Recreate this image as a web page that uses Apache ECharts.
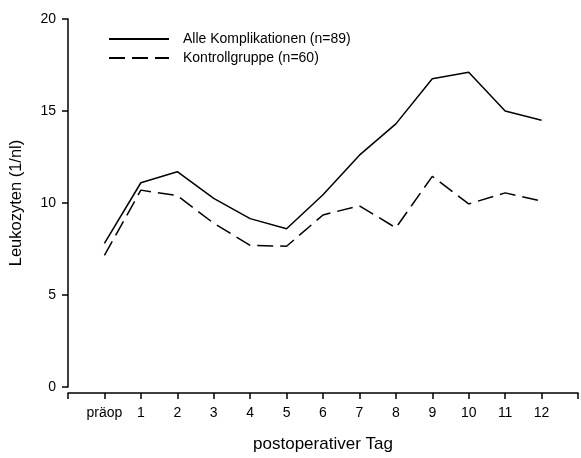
<!DOCTYPE html>
<html>
<head>
<meta charset="utf-8">
<script src="https://cdn.jsdelivr.net/npm/echarts@6/dist/echarts.min.js"></script>
<style>
  html, body { margin: 0; padding: 0; background: #fff; }
  #chart { width: 581px; height: 458px; }
</style>
</head>
<body>
<div id="chart"></div>
<script>
// Day labels along the x axis (index 0 = pre-op)
var categories = ['präop', '1', '2', '3', '4', '5', '6', '7', '8', '9', '10', '11', '12'];
// Mean leukocyte counts (1/nl)
var alleKomplikationen = [7.8, 11.1, 11.7, 10.25, 9.15, 8.6, 10.45, 12.6, 14.3, 16.75, 17.1, 15.0, 14.5];
var kontrollgruppe = [7.15, 10.7, 10.4, 8.9, 7.7, 7.65, 9.35, 9.85, 8.65, 11.45, 9.95, 10.55, 10.1];
var yTicks = [0, 5, 10, 15, 20];

var FONT = '"Liberation Sans", Arial, sans-serif';

function toPairs(values) {
  return values.map(function (v, i) { return [i, v]; });
}

var chart = echarts.init(document.getElementById('chart'), null, { renderer: 'canvas' });

chart.setOption({
  backgroundColor: '#ffffff',
  animation: false,
  textStyle: { fontFamily: FONT, color: '#000' },
  grid: { left: 67.7, top: 19, right: -2.1, bottom: 67.3, containLabel: false },
  legend: {
    orient: 'vertical',
    left: 108,
    top: 32,
    padding: 0,
    itemWidth: 60,
    itemHeight: 14,
    itemGap: 5,
    itemStyle: { opacity: 0 },
    textStyle: { fontFamily: FONT, fontSize: 14, color: '#000', padding: [0, 0, 0, 9] },
    data: ['Alle Komplikationen (n=89)', 'Kontrollgruppe (n=60)']
  },
  xAxis: {
    type: 'value',
    min: -1,
    max: 13,
    interval: 1,
    offset: 6,
    name: 'postoperativer Tag',
    nameLocation: 'middle',
    nameGap: 43,
    nameTextStyle: { fontFamily: FONT, fontSize: 17, color: '#000' },
    axisLine: { show: true, onZero: false, lineStyle: { color: '#000', width: 1.5 } },
    axisTick: { show: true, length: 6, lineStyle: { color: '#000', width: 1.5 } },
    axisLabel: {
      margin: 13,
      fontFamily: FONT,
      fontSize: 14,
      color: '#000',
      formatter: function (v) {
        var i = Math.round(v);
        return (i >= 0 && i < categories.length) ? categories[i] : '';
      }
    },
    splitLine: { show: false }
  },
  yAxis: {
    type: 'value',
    min: yTicks[0],
    max: yTicks[yTicks.length - 1],
    interval: yTicks[1] - yTicks[0],
    name: 'Leukozyten (1/nl)',
    nameLocation: 'middle',
    nameGap: 43,
    nameTextStyle: { fontFamily: FONT, fontSize: 16.5, color: '#000' },
    axisLine: { show: true, onZero: false, lineStyle: { color: '#000', width: 1.5 } },
    axisTick: { show: true, length: 6, lineStyle: { color: '#000', width: 1.5 } },
    axisLabel: { margin: 12, fontFamily: FONT, fontSize: 14, color: '#000' },
    splitLine: { show: false }
  },
  series: [
    {
      name: 'Alle Komplikationen (n=89)',
      type: 'line',
      symbol: 'none',
      data: toPairs(alleKomplikationen),
      lineStyle: { color: '#000', width: 1.5, type: 'solid' },
      itemStyle: { color: '#000' }
    },
    {
      name: 'Kontrollgruppe (n=60)',
      type: 'line',
      symbol: 'none',
      data: toPairs(kontrollgruppe),
      lineStyle: { color: '#000', width: 1.5, type: [16, 7] },
      itemStyle: { color: '#000' }
    }
  ]
});
</script>
</body>
</html>
